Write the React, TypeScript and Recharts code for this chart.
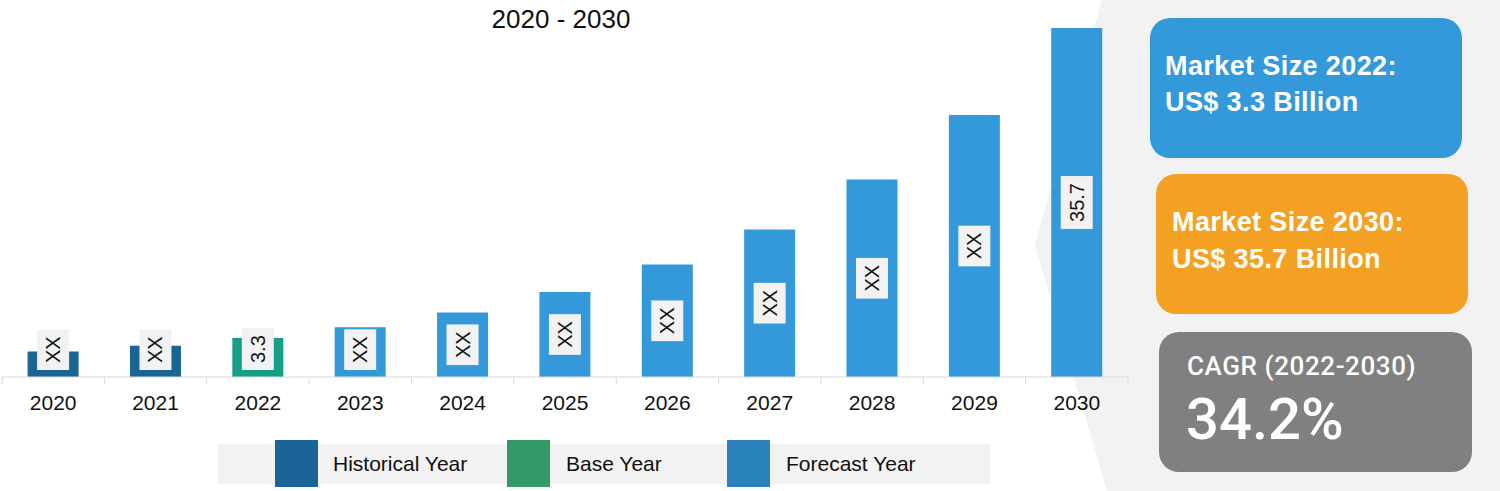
import { BarChart, Bar, XAxis, YAxis, Cell, LabelList } from 'recharts'

const years = ['2020', '2021', '2022', '2023', '2024', '2025', '2026', '2027', '2028', '2029', '2030']
const values = [2.6, 3.2, 4.0, 5.1, 6.6, 8.7, 11.5, 15.1, 20.2, 26.8, 35.7]
const labels = ['XX', 'XX', '3.3', 'XX', 'XX', 'XX', 'XX', 'XX', 'XX', 'XX', '35.7']
const kinds = ['hist', 'hist', 'base', 'fc', 'fc', 'fc', 'fc', 'fc', 'fc', 'fc', 'fc']

const BAR_COLORS: Record<string, string> = { hist: '#1b6595', base: '#15a086', fc: '#3399db' }

const legendItems = [
  { name: 'Historical Year', color: '#1a6496', x: 275, tx: 333 },
  { name: 'Base Year', color: '#339966', x: 507, tx: 566 },
  { name: 'Forecast Year', color: '#2a84bb', x: 727, tx: 786 },
]

const data = years.map((year, i) => ({ year, value: values[i], label: labels[i], kind: kinds[i] }))

const FONT = 'Arial, "Liberation Sans", sans-serif'
const PLOT_LEFT = 2
const PLOT_RIGHT = 1128
const BAND = (PLOT_RIGHT - PLOT_LEFT) / years.length

let measureCtx: CanvasRenderingContext2D | null = null
function textWidth(s: string, font: string) {
  if (!measureCtx) measureCtx = document.createElement('canvas').getContext('2d')
  if (!measureCtx) return s.length * 11
  measureCtx.font = font
  return measureCtx.measureText(s).width
}

function BarLabel(props: any) {
  const { x, y, width, height, value } = props
  const text = String(value)
  const boxH = textWidth(text, `20px ${FONT}`) + 14
  const boxW = 32
  const base = y + height
  const cx = x + width / 2
  const cy = Math.min(y + height / 2, base - 7 - boxH / 2)
  return (
    <g>
      <rect x={cx - boxW / 2} y={cy - boxH / 2} width={boxW} height={boxH} fill="#f2f2f2" />
      <text
        x={cx}
        y={cy}
        transform={`rotate(-90 ${cx} ${cy})`}
        textAnchor="middle"
        dominantBaseline="central"
        fontSize={20}
        fontFamily={FONT}
        fill="#111"
      >
        {text}
      </text>
    </g>
  )
}

function YearTick(props: any) {
  const { x, y, payload, index } = props
  const left = x - BAND / 2
  const last = index === years.length - 1
  return (
    <g>
      <line x1={left} y1={y - 8} x2={left} y2={y - 1} stroke="#d9d9d9" />
      {last && <line x1={x + BAND / 2} y1={y - 8} x2={x + BAND / 2} y2={y - 1} stroke="#d9d9d9" />}
      <text x={x} y={y + 25} textAnchor="middle" fontSize={21} fontFamily={FONT} fill="#111">
        {payload.value}
      </text>
    </g>
  )
}

const boxText = { position: 'absolute' as const, color: '#fff', fontFamily: FONT, whiteSpace: 'nowrap' as const }

export default function App() {
  return (
    <div style={{ position: 'absolute', left: 0, top: 0, width: 1500, height: 491, background: '#fff', overflow: 'hidden' }}>
      <svg width={1500} height={491} style={{ position: 'absolute', left: 0, top: 0 }}>
        <polygon points="1102,0 1500,0 1500,491 1107,491 1035,245" fill="#f2f2f2" />
      </svg>

      <div
        style={{
          position: 'absolute',
          left: 0,
          width: 1122,
          top: 4,
          textAlign: 'center',
          fontFamily: FONT,
          fontSize: 26,
          color: '#111',
        }}
      >
        2020 - 2030
      </div>

      <div style={{ position: 'absolute', left: 0, top: 0 }}>
        <BarChart
          width={1500}
          height={491}
          data={data}
          margin={{ top: 28, right: 1500 - PLOT_RIGHT, left: PLOT_LEFT, bottom: 74 }}
          barCategoryGap="25%"
        >
          <XAxis
            dataKey="year"
            height={40}
            axisLine={{ stroke: '#d9d9d9' }}
            tickLine={false}
            tick={<YearTick />}
            interval={0}
          />
          <YAxis hide domain={[0, 35.7]} allowDataOverflow />
          <Bar dataKey="value" isAnimationActive={false}>
            {data.map((d, i) => (
              <Cell key={`bar-${i}`} fill={BAR_COLORS[d.kind]} />
            ))}
            <LabelList dataKey="label" content={<BarLabel />} />
          </Bar>
        </BarChart>
      </div>

      <div style={{ position: 'absolute', left: 218, top: 444, width: 772, height: 40, background: '#f2f2f2' }} />
      {legendItems.map((item) => (
        <div key={item.name}>
          <div style={{ position: 'absolute', left: item.x, top: 440, width: 43, height: 47, background: item.color }} />
          <div
            style={{
              position: 'absolute',
              left: item.tx,
              top: 451,
              fontFamily: FONT,
              fontSize: 21,
              lineHeight: '26px',
              color: '#111',
            }}
          >
            {item.name}
          </div>
        </div>
      ))}

      <div style={{ position: 'absolute', left: 1150, top: 18, width: 312, height: 140, borderRadius: 20, background: '#3399db' }}>
        <div style={{ ...boxText, left: 15, top: 30, fontSize: 27, fontWeight: 700, lineHeight: '36px', letterSpacing: 0.4 }}>
          Market Size 2022:
          <br />
          US$ 3.3 Billion
        </div>
      </div>
      <div style={{ position: 'absolute', left: 1156, top: 174, width: 312, height: 140, borderRadius: 20, background: '#f4a023' }}>
        <div style={{ ...boxText, left: 16, top: 30, fontSize: 27, fontWeight: 700, lineHeight: '37px', letterSpacing: 0.4 }}>
          Market Size 2030:
          <br />
          US$ 35.7 Billion
        </div>
      </div>
      <div style={{ position: 'absolute', left: 1159, top: 332, width: 313, height: 140, borderRadius: 20, background: '#808080' }}>
        <div style={{ ...boxText, left: 28, top: 18, fontSize: 26, fontFamily: 'Roboto, Arial, sans-serif', fontWeight: 500, lineHeight: '32px', letterSpacing: 0.6 }}>
          CAGR (2022-2030)
        </div>
        <div style={{ ...boxText, left: 27, top: 54, fontSize: 58, fontFamily: 'Roboto, Arial, sans-serif', fontWeight: 500, lineHeight: '66px' }}>
          34.2%
        </div>
      </div>
    </div>
  )
}
